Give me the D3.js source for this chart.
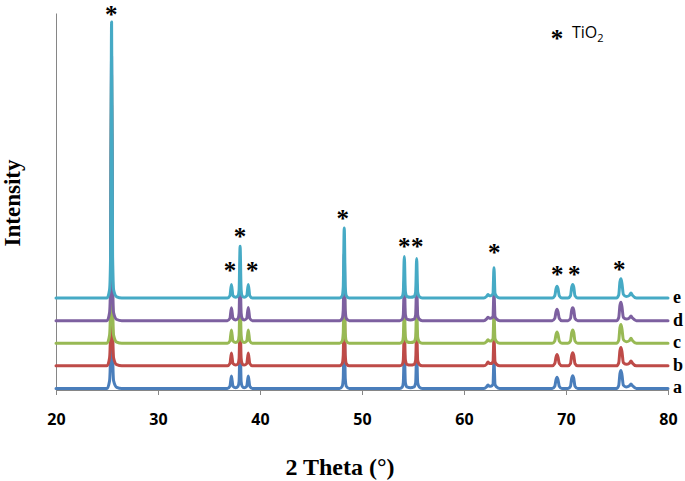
<!DOCTYPE html>
<html>
<head>
<meta charset="utf-8">
<script src="https://cdn.jsdelivr.net/npm/d3@7"></script>
<style>
  body { margin: 0; background: #fff; }
  svg { display: block; }
</style>
</head>
<body>
<div id="chart"></div>
<script>
// 2 theta positions shared by all five patterns
const twoTheta = [20,
  25.0, 25.25, 25.35, 25.45, 25.55, 25.65, 25.95, 26.45,
  36.8, 37.05, 37.2, 37.35, 37.62, 37.85, 37.95, 38.05, 38.15, 38.25, 38.45, 38.7, 38.85, 39.0, 39.25,
  47.8, 48.06, 48.16, 48.26, 48.36, 48.46, 48.75,
  53.7, 53.95, 54.05, 54.15, 54.25, 54.4, 54.75, 55.11, 55.26, 55.36, 55.46, 55.61, 55.9,
  61.95, 62.2, 62.35, 62.5, 62.65, 62.84, 62.94, 63.04, 63.2, 63.5,
  68.65, 68.9, 69.02, 69.12, 69.22, 69.34, 69.6,
  70.2, 70.44, 70.56, 70.66, 70.76, 70.88, 71.15,
  74.95, 75.17, 75.29, 75.39, 75.49, 75.62, 75.9, 76.22, 76.37, 76.52, 76.9,
  80];

const seriesNames = ["a", "b", "c", "d", "e"];
const offsets = [0, 60, 120, 180, 240];

const intensityA = [4,
  4, 24, 104, 680, 104, 24, 7, 4,
  4, 10, 37, 10, 6, 10, 23, 131, 23, 10, 6, 10, 37, 10, 4,
  4, 10, 30, 176, 30, 10, 4,
  4, 8, 20, 106, 20, 8, 6, 8, 19, 101, 19, 8, 4,
  4, 8, 13, 10, 10, 15, 78, 15, 8, 4,
  4, 10, 27, 34, 27, 10, 4,
  4, 10, 31, 38, 31, 10, 4,
  4, 12, 44, 52, 40, 13, 8, 11, 16, 11, 4,
  4];
const intensityB = [4,
  4, 25, 106, 695, 106, 25, 7, 4,
  4, 10, 38, 10, 6, 10, 24, 134, 24, 10, 6, 10, 38, 10, 4,
  4, 10, 31, 180, 31, 10, 4,
  4, 8, 20, 108, 20, 8, 6, 8, 19, 103, 19, 8, 4,
  4, 8, 14, 10, 10, 15, 80, 15, 8, 4,
  4, 10, 27, 34, 27, 10, 4,
  4, 10, 32, 39, 32, 10, 4,
  4, 12, 45, 53, 41, 13, 8, 11, 17, 11, 4,
  4];
const intensityC = [4,
  4, 25, 110, 715, 110, 25, 7, 4,
  4, 10, 39, 10, 6, 10, 24, 137, 24, 10, 6, 10, 39, 10, 4,
  4, 10, 31, 184, 31, 10, 4,
  4, 8, 21, 111, 21, 8, 6, 8, 20, 106, 20, 8, 4,
  4, 8, 13, 10, 10, 16, 81, 16, 8, 4,
  4, 10, 27, 34, 27, 10, 4,
  4, 10, 32, 39, 32, 10, 4,
  4, 12, 46, 54, 41, 14, 8, 11, 17, 11, 4,
  4];
const intensityD = [4,
  4, 25, 108, 705, 108, 25, 7, 4,
  4, 10, 38, 10, 6, 10, 24, 135, 24, 10, 6, 10, 39, 10, 4,
  4, 10, 31, 182, 31, 10, 4,
  4, 8, 20, 110, 20, 8, 6, 8, 19, 105, 19, 8, 4,
  4, 8, 13, 10, 10, 15, 80, 15, 8, 4,
  4, 10, 27, 34, 27, 10, 4,
  4, 10, 32, 38, 32, 10, 4,
  4, 12, 45, 53, 40, 13, 8, 11, 16, 11, 4,
  4];
const intensityE = [4,
  4, 26, 113, 736, 113, 26, 7, 4,
  4, 10, 40, 10, 6, 10, 25, 141, 25, 10, 6, 10, 40, 10, 4,
  4, 10, 32, 190, 32, 10, 4,
  4, 8, 21, 114, 21, 8, 6, 8, 20, 109, 20, 8, 4,
  4, 8, 13, 10, 10, 16, 84, 16, 8, 4,
  4, 10, 28, 35, 28, 10, 4,
  4, 10, 33, 40, 33, 10, 4,
  4, 12, 47, 55, 42, 14, 8, 11, 17, 11, 4,
  4];

const xTicks = [20, 30, 40, 50, 60, 70, 80];

// asterisks marking the TiO2 reflections
const starTheta = [25.42, 37.06, 38.04, 39.25, 48.11, 54.14, 55.42, 62.97, 69.15, 70.81, 75.23];
const starLevel = [1005, 327, 417, 327, 464, 391, 391, 373, 316, 316, 329];

const colors = ["#4A7EBB", "#BE4B48", "#98B954", "#7D60A0", "#46AAC5"];
const allSeries = [intensityA, intensityB, intensityC, intensityD, intensityE];

const width = 685;
const height = 481;

const svg = d3.select("#chart")
  .append("svg")
  .attr("width", width)
  .attr("height", height);

const x = d3.scaleLinear().domain([20, 80]).range([56, 668]);
const y = d3.scaleLinear().domain([0, 1000]).range([390, 13]);

// axes
const xAxis = svg.append("g")
  .attr("transform", `translate(0, ${y(0)})`)
  .call(d3.axisBottom(x).tickValues(xTicks).tickSize(5).tickSizeOuter(0).tickPadding(19));
xAxis.select(".domain").attr("stroke", "#868686");
xAxis.selectAll(".tick line").attr("stroke", "#868686");
xAxis.selectAll("text")
  .attr("fill", "#000")
  .style("font-family", "'Open Sans', sans-serif")
  .style("font-weight", "bold")
  .style("font-size", "16px");

const yAxis = svg.append("g")
  .attr("transform", `translate(${x(20)}, 0)`)
  .call(d3.axisLeft(y).tickValues([]).tickSizeOuter(0));
yAxis.select(".domain").attr("stroke", "#868686");

// patterns, a at the bottom, e drawn last
const line = d3.line()
  .x(d => x(d[0]))
  .y(d => y(d[1]))
  .curve(d3.curveMonotoneX);

allSeries.forEach((vals, i) => {
  const pts = twoTheta.map((t, j) => [t, vals[j] + offsets[i]]);
  svg.append("path")
    .datum(pts)
    .attr("d", line)
    .attr("fill", "none")
    .attr("stroke", colors[i])
    .attr("stroke-width", 3)
    .attr("stroke-linejoin", "round")
    .attr("stroke-linecap", "round");
});

// series labels
svg.selectAll(".slabel")
  .data(seriesNames)
  .enter()
  .append("text")
  .attr("x", 673)
  .attr("y", (d, i) => y(4 + offsets[i]) + 5)
  .style("font-family", "'Liberation Serif', serif")
  .style("font-weight", "bold")
  .style("font-size", "18px")
  .text(d => d);

// asterisks
svg.selectAll(".star")
  .data(starTheta)
  .enter()
  .append("text")
  .attr("x", d => x(d))
  .attr("y", (d, i) => y(starLevel[i]) + 12)
  .attr("text-anchor", "middle")
  .style("font-family", "'Liberation Serif', serif")
  .style("font-weight", "bold")
  .style("font-size", "25px")
  .text("*");

// legend
svg.append("text")
  .attr("x", 557)
  .attr("y", 47)
  .attr("text-anchor", "middle")
  .style("font-family", "'Liberation Serif', serif")
  .style("font-weight", "bold")
  .style("font-size", "25px")
  .text("*");
const leg = svg.append("text")
  .attr("x", 572)
  .attr("y", 38)
  .style("font-family", "'Open Sans', sans-serif")
  .style("font-size", "16px");
leg.append("tspan").text("TiO");
leg.append("tspan").attr("dy", 4).style("font-size", "11px").text("2");

// axis titles
svg.append("text")
  .attr("x", 340)
  .attr("y", 475)
  .attr("text-anchor", "middle")
  .style("font-family", "'Liberation Serif', serif")
  .style("font-weight", "bold")
  .style("font-size", "24px")
  .text("2 Theta (°)");

svg.append("text")
  .attr("transform", "translate(20, 203) rotate(-90)")
  .attr("text-anchor", "middle")
  .style("font-family", "'Liberation Serif', serif")
  .style("font-weight", "bold")
  .style("font-size", "23px")
  .text("Intensity");
</script>
</body>
</html>
